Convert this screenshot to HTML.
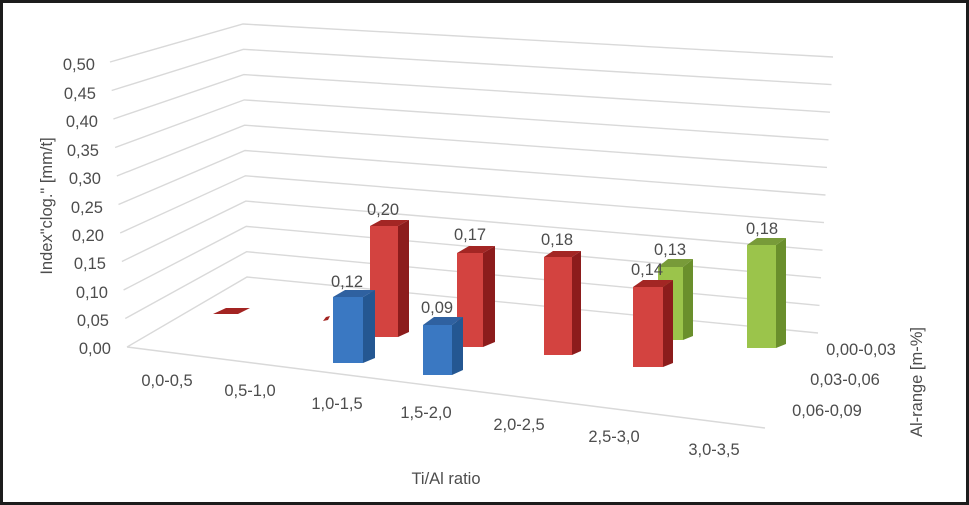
<!DOCTYPE html>
<html><head><meta charset="utf-8"><style>
html,body{margin:0;padding:0;background:#fff;}
.wrap{width:969px;height:505px;box-sizing:border-box;border:3px solid #1c1c1c;position:relative;overflow:hidden;background:#fff;}
svg{position:absolute;left:-3px;top:-3px;}
text{font-family:"Liberation Sans",sans-serif;font-size:16.5px;fill:#4d4d4d;}
</style></head><body><div class="wrap">
<svg width="969" height="505" viewBox="0 0 969 505" xmlns="http://www.w3.org/2000/svg">
<g stroke="#d9d9d9" stroke-width="1.4" fill="none">
<polyline points="127,347 247,277 818,333"/>
<polyline points="125.3,318.5 246.6,251.7 819.5,305.4"/>
<polyline points="123.6,290 246.2,226.4 821,277.8"/>
<polyline points="121.9,261.5 245.8,201.1 822.5,250.2"/>
<polyline points="120.2,233 245.4,175.8 824,222.6"/>
<polyline points="118.5,204.5 245,150.5 825.5,195"/>
<polyline points="116.8,176 244.6,125.2 827,167.4"/>
<polyline points="115.1,147.5 244.2,99.9 828.5,139.8"/>
<polyline points="113.4,119 243.8,74.6 830,112.2"/>
<polyline points="111.7,90.5 243.4,49.3 831.5,84.6"/>
<polyline points="110,62 243,24 833,57"/>
<line x1="127" y1="347" x2="765" y2="428"/>
</g>
<!-- Y tick labels -->
<g text-anchor="end">
<text x="95" y="70">0,50</text>
<text x="96" y="99">0,45</text>
<text x="98" y="127">0,40</text>
<text x="99" y="156">0,35</text>
<text x="101" y="184">0,30</text>
<text x="103" y="213">0,25</text>
<text x="104" y="241">0,20</text>
<text x="106" y="269">0,15</text>
<text x="108" y="298">0,10</text>
<text x="109" y="326">0,05</text>
<text x="111" y="354">0,00</text>
</g>
<!-- green row (back) -->
<g>
<polygon points="683,267 693,259 693,336 683,340" fill="#6a8f2c"/>
<polygon points="658,267 683,267 693,259 668,259" fill="#789b39"/>
<rect x="658" y="267" width="25" height="73" fill="#9bc44b"/>
<polygon points="776,245 786,238 786,344 776,348" fill="#6a8f2c"/>
<polygon points="747,245 776,245 786,238 757,238" fill="#789b39"/>
<rect x="747" y="245" width="29" height="103" fill="#9bc44b"/>
</g>
<!-- red row (middle) -->
<g>
<polygon points="213,314 238,314 250,308 226,308" fill="#a32422"/>
<polygon points="323,321 328,320 330,316 326,317" fill="#a32422"/>
<polygon points="398,226 409,220 409,332 398,337" fill="#8c1c1c"/>
<polygon points="370,226 398,226 409,220 381,220" fill="#a32624"/>
<rect x="370" y="226" width="28" height="111" fill="#d34340"/>
<polygon points="483,253 495,246 495,342 483,347" fill="#8c1c1c"/>
<polygon points="457,253 483,253 495,246 469,246" fill="#a32624"/>
<rect x="457" y="253" width="26" height="94" fill="#d34340"/>
<polygon points="572,257 581,251 581,351 572,355" fill="#8c1c1c"/>
<polygon points="544,257 572,257 581,251 553,251" fill="#a32624"/>
<rect x="544" y="257" width="28" height="98" fill="#d34340"/>
<polygon points="663,287 673,280 673,363 663,367" fill="#8c1c1c"/>
<polygon points="633,287 663,287 673,280 643,280" fill="#a32624"/>
<rect x="633" y="287" width="30" height="80" fill="#d34340"/>
</g>
<!-- blue row (front) -->
<g>
<polygon points="363,297 375,290 375,358 363,363" fill="#245792"/>
<polygon points="333,297 363,297 375,290 345,290" fill="#2f61a0"/>
<rect x="333" y="297" width="30" height="66" fill="#3a78c2"/>
<polygon points="452,325 463,317 463,370 452,375" fill="#245792"/>
<polygon points="423,325 452,325 463,317 434,317" fill="#2f61a0"/>
<rect x="423" y="325" width="29" height="50" fill="#3a78c2"/>
</g>
<!-- data labels -->
<g text-anchor="middle">
<text x="383" y="215">0,20</text>
<text x="347" y="287">0,12</text>
<text x="437" y="313">0,09</text>
<text x="470" y="240">0,17</text>
<text x="557" y="245">0,18</text>
<text x="670" y="255">0,13</text>
<text x="647" y="275">0,14</text>
<text x="762" y="234">0,18</text>
</g>
<!-- category labels -->
<g text-anchor="middle">
<text x="167" y="386">0,0-0,5</text>
<text x="250" y="396">0,5-1,0</text>
<text x="337" y="409">1,0-1,5</text>
<text x="426" y="418">1,5-2,0</text>
<text x="519" y="430">2,0-2,5</text>
<text x="614" y="442">2,5-3,0</text>
<text x="714" y="455">3,0-3,5</text>
<text x="446" y="484">Ti/Al ratio</text>
</g>
<!-- series labels -->
<g text-anchor="middle">
<text x="861" y="355">0,00-0,03</text>
<text x="845" y="385">0,03-0,06</text>
<text x="827" y="416">0,06-0,09</text>
</g>
<text text-anchor="middle" transform="translate(922,382) rotate(-90)">Al-range [m-%]</text>
<text text-anchor="middle" transform="translate(52,206) rotate(-90)">Index"clog." [mm/t]</text>
</svg>
</div></body></html>
